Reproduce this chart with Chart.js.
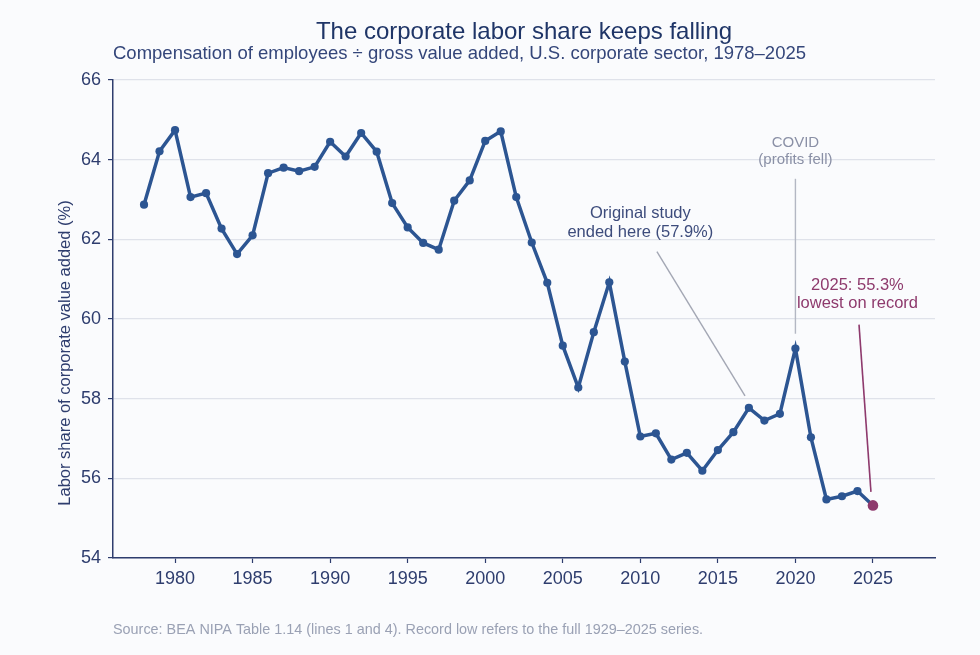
<!DOCTYPE html>
<html>
<head>
<meta charset="utf-8">
<script src="https://cdn.jsdelivr.net/npm/chart.js@4.4.1/dist/chart.umd.min.js"></script>
<style>
  html, body { margin: 0; padding: 0; background: #fafbfd; }
  canvas { display: block; }
</style>
</head>
<body>
<canvas id="c" width="980" height="655"></canvas>
<script>
// ---- data ----
const years = [1978,1979,1980,1981,1982,1983,1984,1985,1986,1987,1988,1989,1990,1991,1992,1993,1994,1995,1996,1997,1998,1999,2000,2001,2002,2003,2004,2005,2006,2007,2008,2009,2010,2011,2012,2013,2014,2015,2016,2017,2018,2019,2020,2021,2022,2023,2024,2025];
const laborShare = [62.87,64.21,64.74,63.06,63.16,62.27,61.63,62.10,63.66,63.80,63.71,63.82,64.45,64.08,64.67,64.20,62.91,62.30,61.91,61.74,62.97,63.48,64.47,64.71,63.06,61.92,60.91,59.33,58.28,59.67,60.92,58.93,57.05,57.13,56.47,56.64,56.19,56.71,57.16,57.77,57.45,57.62,59.26,57.03,55.47,55.55,55.68,55.32];
const xTickYears = [1980,1985,1990,1995,2000,2005,2010,2015,2020,2025];
const yTickValues = [54,56,58,60,62,64,66];

const titleText = "The corporate labor share keeps falling";
const subtitleText = "Compensation of employees \u00f7 gross value added, U.S. corporate sector, 1978\u20132025";
const yAxisTitle = "Labor share of corporate value added (%)";
const sourceText = "Source: BEA NIPA Table 1.14 (lines 1 and 4). Record low refers to the full 1929\u20132025 series.";
const studyLabel = ["Original study", "ended here (57.9%)"];
const covidLabel = ["COVID", "(profits fell)"];
const recordLabel = ["2025: 55.3%", "lowest on record"];

// ---- styles ----
const NAVY = '#2c5592';
const AXIS = '#2e3d6e';
const PLUM = '#8e3a6d';
const FONT = '"Liberation Sans", Arial, Helvetica, sans-serif';

const pts = years.map((y, i) => ({ x: y, y: laborShare[i] }));
const lastIdx = pts.length - 1;

const decor = {
  id: 'decor',
  beforeDraw(chart) {
    const ctx = chart.ctx;
    ctx.save();
    ctx.fillStyle = '#fafbfd';
    ctx.fillRect(0, 0, chart.width, chart.height);
    ctx.restore();
  },
  afterDatasetsDraw(chart) {
    const ctx = chart.ctx;
    const xs = chart.scales.x, ys = chart.scales.y;
    const X = v => xs.getPixelForValue(v);
    const Y = v => ys.getPixelForValue(v);
    ctx.save();
    // original study leader
    ctx.strokeStyle = '#a3a7b4';
    ctx.lineWidth = 1.4;
    ctx.beginPath();
    ctx.moveTo(X(2011.07), Y(61.69));
    ctx.lineTo(X(2016.75), Y(58.07));
    ctx.stroke();
    // covid vertical
    ctx.strokeStyle = '#b3b7c3';
    ctx.beginPath();
    ctx.moveTo(X(2020), Y(63.52));
    ctx.lineTo(X(2020), Y(59.63));
    ctx.stroke();
    // record leader
    ctx.strokeStyle = PLUM;
    ctx.lineWidth = 1.6;
    ctx.beginPath();
    ctx.moveTo(X(2024.1), Y(59.86));
    ctx.lineTo(X(2024.87), Y(55.66));
    ctx.stroke();

    ctx.textAlign = 'center';
    ctx.textBaseline = 'middle';
    ctx.font = '16.5px ' + FONT;
    ctx.fillStyle = '#3d4c7c';
    ctx.fillText(studyLabel[0], X(2010), Y(62.65));
    ctx.fillText(studyLabel[1], X(2010), Y(62.17));
    ctx.font = '15px ' + FONT;
    ctx.fillStyle = '#8a90a6';
    ctx.fillText(covidLabel[0], X(2020), Y(64.43));
    ctx.fillText(covidLabel[1], X(2020), Y(64.0));
    ctx.font = '16.5px ' + FONT;
    ctx.fillStyle = PLUM;
    ctx.fillText(recordLabel[0], X(2024.0), Y(60.84));
    ctx.fillText(recordLabel[1], X(2024.0), Y(60.38));
    ctx.restore();
  },
  afterDraw(chart) {
    const ctx = chart.ctx;
    const a = chart.chartArea;
    ctx.save();
    ctx.textBaseline = 'middle';
    ctx.textAlign = 'center';
    ctx.fillStyle = '#1f3567';
    ctx.font = '24px ' + FONT;
    ctx.fillText(titleText, (a.left + a.right) / 2, 32);
    ctx.textAlign = 'left';
    ctx.fillStyle = '#34467a';
    ctx.font = '18.5px ' + FONT;
    ctx.fillText(subtitleText, a.left, 54);
    ctx.fillStyle = '#9aa1b4';
    ctx.font = '14.4px ' + FONT;
    ctx.fillText(sourceText, a.left, 630);
    // y-axis title
    ctx.translate(65, 353);
    ctx.rotate(-Math.PI / 2);
    ctx.textAlign = 'center';
    ctx.fillStyle = '#2e3d6e';
    ctx.font = '16.5px ' + FONT;
    ctx.fillText(yAxisTitle, 0, 0);
    ctx.restore();
  }
};

new Chart(document.getElementById('c'), {
  type: 'line',
  data: {
    datasets: [{
      data: pts,
      borderColor: NAVY,
      borderWidth: 3.5,
      tension: 0,
      pointRadius: c => c.dataIndex === lastIdx ? 5.3 : 4.1,
      pointBackgroundColor: c => c.dataIndex === lastIdx ? PLUM : NAVY,
      pointBorderWidth: 0,
      pointHoverRadius: 0,
      clip: false
    }]
  },
  options: {
    responsive: false,
    animation: false,
    devicePixelRatio: 1,
    events: [],
    layout: { padding: { top: 80, right: 45, bottom: 0, left: 0 } },
    plugins: { legend: { display: false }, tooltip: { enabled: false }, title: { display: false } },
    scales: {
      x: {
        type: 'linear',
        min: 1976,
        max: 2029,
        afterBuildTicks: s => { s.ticks = xTickYears.map(v => ({ value: v })); },
        afterFit: s => { s.height = 97; },
        grid: { drawOnChartArea: false, drawTicks: true, tickLength: 5, tickColor: AXIS, tickWidth: 1.2 },
        border: { display: true, color: AXIS, width: 1.5 },
        ticks: { callback: v => String(v), color: '#2e3d6e', font: { family: FONT, size: 18 }, padding: 5, maxRotation: 0, autoSkip: false }
      },
      y: {
        min: 54,
        max: 66,
        afterBuildTicks: s => { s.ticks = yTickValues.map(v => ({ value: v })); },
        afterFit: s => { s.width = 113; },
        grid: { color: '#dfe2ea', lineWidth: 1.2, drawTicks: true, tickLength: 5, tickColor: AXIS, tickWidth: 1.2 },
        border: { display: true, color: AXIS, width: 1.5 },
        ticks: { callback: v => String(v), color: '#2e3d6e', font: { family: FONT, size: 18 }, padding: 7 }
      }
    }
  },
  plugins: [decor]
});
</script>
</body>
</html>
